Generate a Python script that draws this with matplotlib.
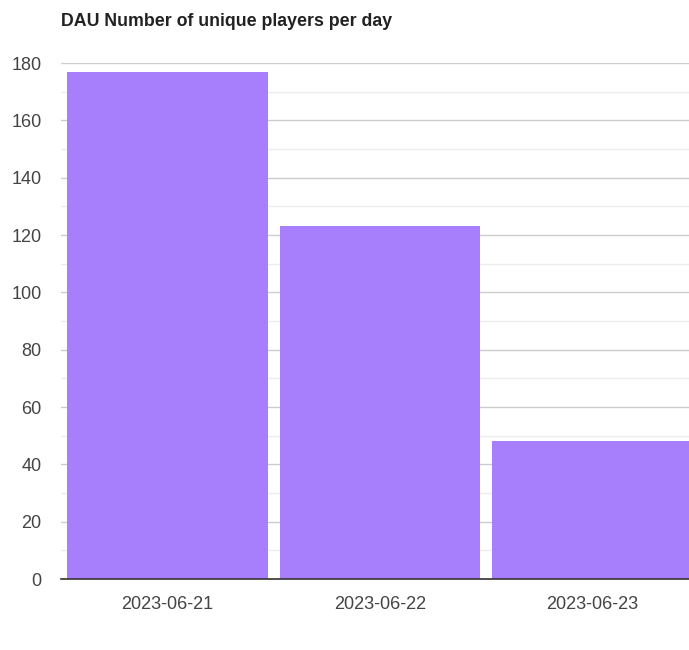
import matplotlib.pyplot as plt
from matplotlib.ticker import MultipleLocator

# daily active users
days = ['2023-06-21', '2023-06-22', '2023-06-23']
players = [177, 123, 48]

plt.rcParams['font.family'] = ['Liberation Sans', 'DejaVu Sans']

fig = plt.figure(figsize=(6.89, 6.5), dpi=100)
# axes runs past the right edge, the original is cropped there
ax = fig.add_axes([61 / 689, 71 / 650, 638 / 689, 516 / 650])

x = range(len(days))
ax.bar(x, players, width=0.945, color='#a77ffd', zorder=2)

ax.set_xlim(-0.5, len(days) - 0.5)
ax.set_ylim(0, 180)
ax.yaxis.set_major_locator(MultipleLocator(20))
ax.yaxis.set_minor_locator(MultipleLocator(10))
ax.grid(which='major', axis='y', color='#cccccc', linewidth=1, zorder=0)
ax.grid(which='minor', axis='y', color='#ececec', linewidth=1, zorder=0)

ax.set_xticks(list(x))
ax.set_xticklabels(days)
ax.tick_params(axis='both', which='both', length=0, labelsize=13, labelcolor='#444444')
ax.tick_params(axis='x', pad=12.5)
ax.tick_params(axis='y', pad=14)

for s in ['top', 'right', 'left']:
    ax.spines[s].set_visible(False)
ax.spines['bottom'].set_color('#333333')
ax.spines['bottom'].set_linewidth(1.2)
ax.spines['bottom'].set_zorder(3)

fig.text(61 / 689, 1 - 21 / 650, 'DAU Number of unique players per day',
         fontsize=12.8, fontweight='bold', color='#222222', va='center', ha='left')

fig.savefig('out.png', dpi=100)
